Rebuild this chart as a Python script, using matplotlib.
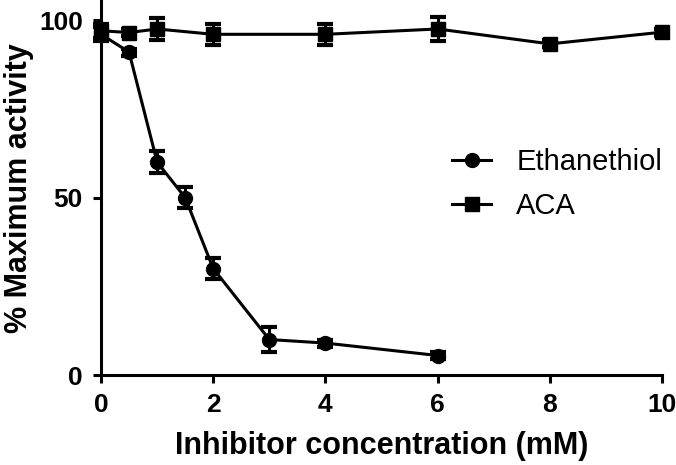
import matplotlib.pyplot as plt

plt.rcParams['font.family'] = ['Liberation Sans', 'DejaVu Sans']

# concentrations (mM) and activity (%)
eth_x = [0, 0.5, 1, 1.5, 2, 3, 4, 6]
eth_y = [96, 91, 60, 50, 30, 10, 9, 5.5]
eth_err = [2, 1, 3, 3, 3, 3.5, 1, 1]

aca_x = [0, 0.5, 1, 2, 4, 6, 8, 10]
aca_y = [97, 96.5, 97.5, 96, 96, 97.5, 93.3, 96.6]
aca_err = [2, 1, 3, 3, 3, 3.5, 1, 1]

fig = plt.figure(figsize=(6.76, 4.65), dpi=100)
ax = fig.add_axes([0.1494, 0.1935, 0.830, 0.806])

style = dict(color='black', linewidth=2.2, elinewidth=2.2, capsize=5.5, capthick=3,
             clip_on=False)
eth = ax.errorbar(eth_x, eth_y, yerr=eth_err, marker='o', markersize=10, **style)
aca = ax.errorbar(aca_x, aca_y, yerr=aca_err, marker='s', markersize=10, **style)

ax.set_xlim(0, 10)
ax.set_ylim(0, 105.6)
ax.set_xticks([0, 2, 4, 6, 8, 10])
ax.set_yticks([0, 50, 100])
for s in ['top', 'right']:
    ax.spines[s].set_visible(False)
for s in ['left', 'bottom']:
    ax.spines[s].set_linewidth(2.2)
ax.tick_params(width=2.2, length=6, labelsize=19, pad=7)
for lab in ax.get_xticklabels() + ax.get_yticklabels():
    lab.set_fontweight('bold')

ax.set_xlabel('Inhibitor concentration (mM)', fontsize=22, fontweight='bold', labelpad=10)
ax.set_ylabel('% Maximum activity', fontsize=22, fontweight='bold', labelpad=4)

# legend shows only line + marker, no error bars
ax.legend([eth.lines[0], aca.lines[0]], ['Ethanethiol', 'ACA'],
          loc='upper left', bbox_to_anchor=(452 / 676, (465 - 148) / 465),
          bbox_transform=fig.transFigure, frameon=False, fontsize=21,
          borderpad=0, borderaxespad=0, handlelength=1.35, handletextpad=0.85,
          labelspacing=0.55)

fig.savefig('out.png', dpi=100)
